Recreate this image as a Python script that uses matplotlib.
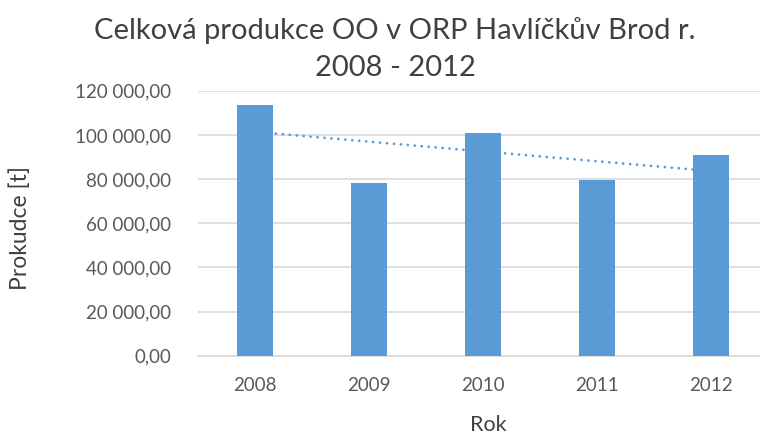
import numpy as np
import matplotlib.pyplot as plt
from matplotlib.ticker import FuncFormatter, MultipleLocator

years = ['2008', '2009', '2010', '2011', '2012']
production = [113500, 78200, 100700, 79400, 90700]

plt.rcParams['font.family'] = ['Lato', 'DejaVu Sans']

def cz_fmt(v, pos):
    s = '{:,.2f}'.format(v)
    return s.replace(',', ' ').replace('.', ',')

fig = plt.figure(figsize=(7.6, 4.37), dpi=100)
ax = fig.add_axes([198/760, 0.186, 570/760, 0.6064])

x = np.arange(len(years))
ax.bar(x, production, width=0.31, color='#5b9bd5', zorder=3)

# linear trend
k, q = np.polyfit(x, production, 1)
ax.plot(x, k*x + q, linestyle=(0, (0.01, 2.5)), color='#5b9bd5', linewidth=2,
        dash_capstyle='round', zorder=2)

ax.set_xlim(-0.5, 4.5)
ax.set_ylim(0, 120000)
ax.yaxis.set_major_locator(MultipleLocator(20000))
ax.yaxis.set_major_formatter(FuncFormatter(cz_fmt))
ax.set_xticks(x)
ax.set_xticklabels(years)
ax.grid(axis='y', color='#d9d9d9', linewidth=1.2, zorder=0)
for s in ['top', 'right', 'left']:
    ax.spines[s].set_visible(False)
ax.spines['bottom'].set_color('#d9d9d9')
ax.spines['bottom'].set_linewidth(1.2)
ax.tick_params(length=0, labelsize=13.5, labelcolor='#595959')
ax.tick_params(axis='x', pad=15)
ax.tick_params(axis='y', pad=19)

fig.text(0.52, 0.93, 'Celková produkce OO v ORP Havlíčkův Brod r.', ha='center', va='center',
         fontsize=21, color='#404040')
fig.text(0.52, 0.845, '2008 - 2012', ha='center', va='center', fontsize=21, color='#404040')
fig.text(0.027, 0.478, 'Prokudce [t]', rotation=90, ha='center', va='center',
         fontsize=16.5, color='#404040')
fig.text(0.642, 0.027, 'Rok', ha='center', va='center', fontsize=15.5, color='#404040')

fig.savefig('out.png', dpi=100)
